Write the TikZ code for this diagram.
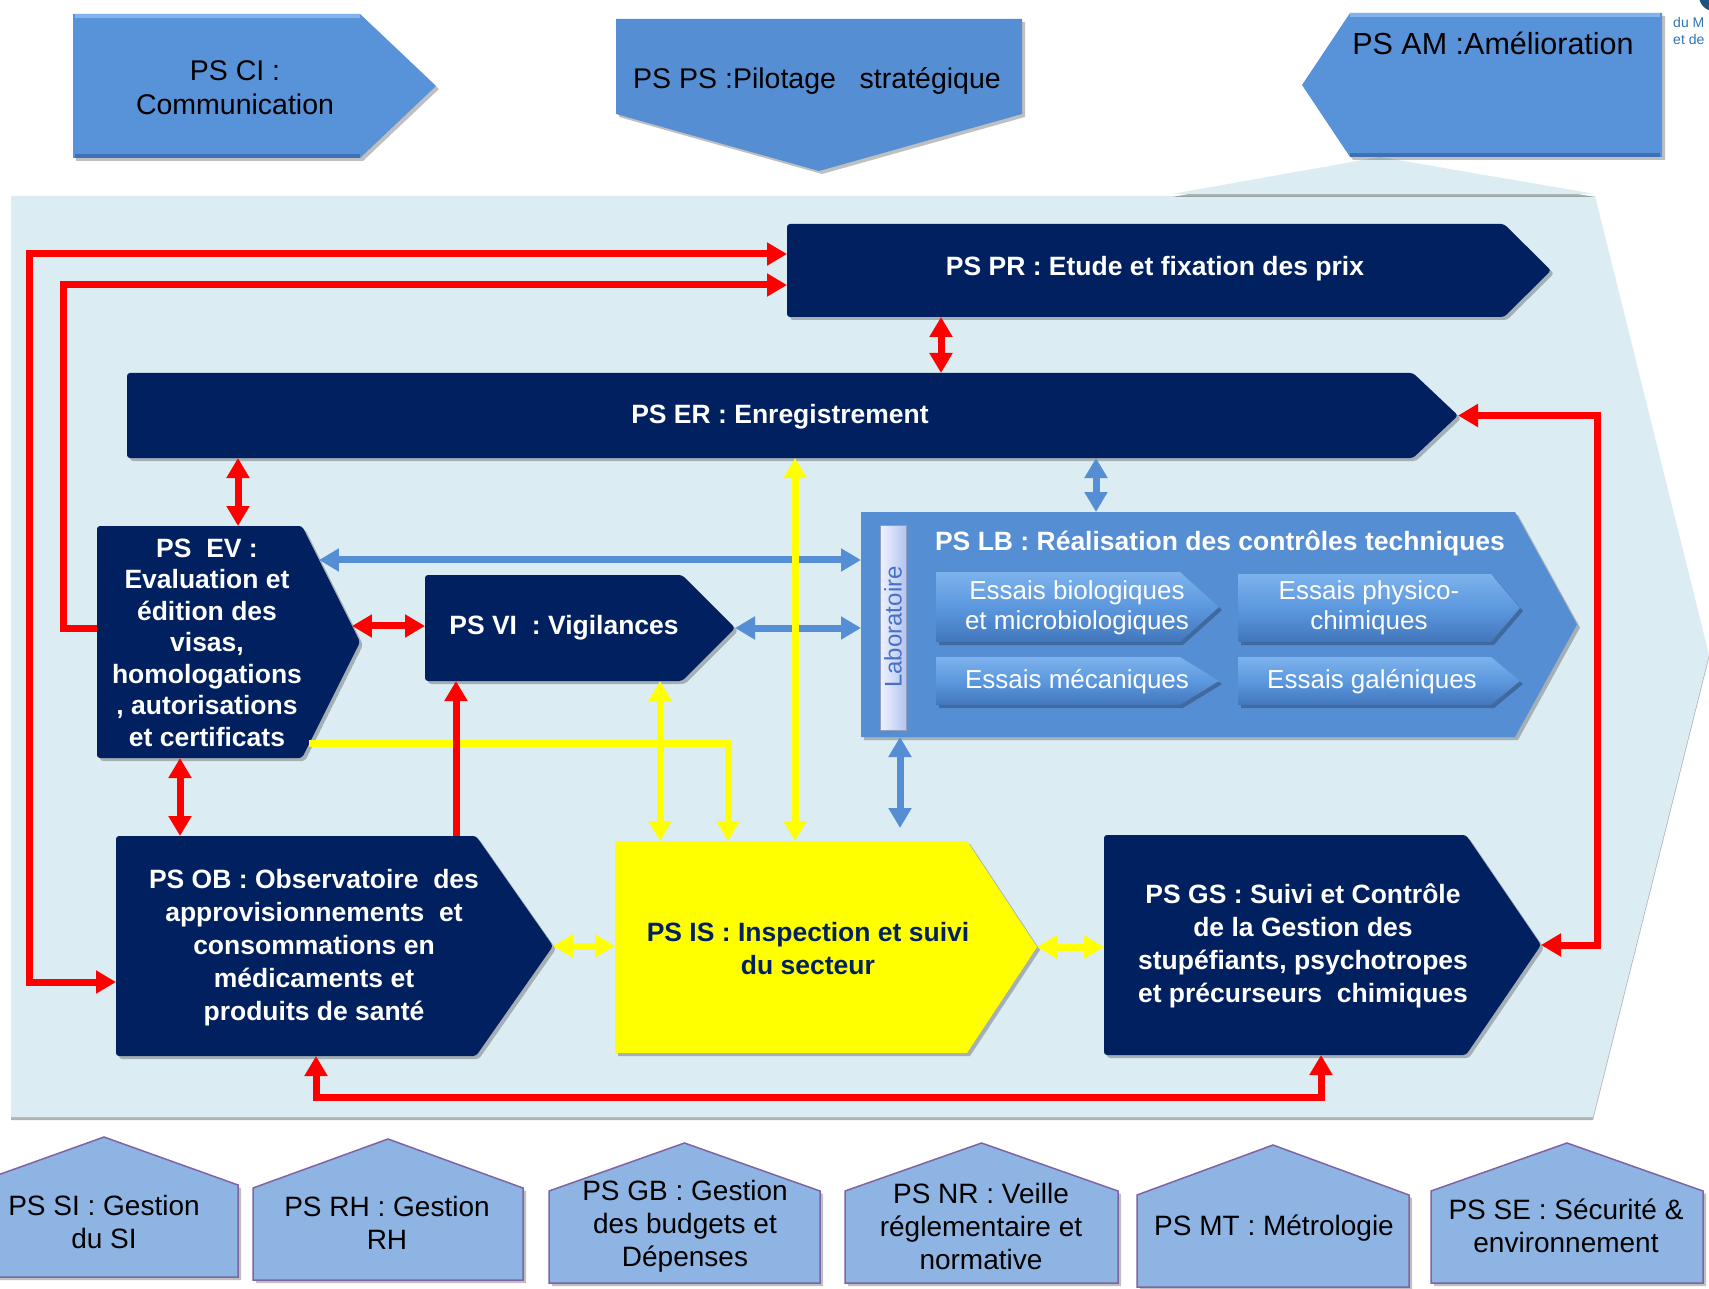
\documentclass[tikz,border=0pt]{standalone}
\usepackage{fontspec}
\setmainfont{Liberation Sans}
\usetikzlibrary{arrows.meta,shadows,calc}
\definecolor{navy}{RGB}{0,32,96}
\definecolor{bgblue}{RGB}{219,236,242}
\definecolor{topblue}{RGB}{88,146,216}
\definecolor{toplight}{RGB}{130,180,236}
\definecolor{topdark}{RGB}{62,112,182}
\definecolor{lbblue}{RGB}{86,142,212}
\definecolor{subtop}{RGB}{125,178,236}
\definecolor{submid}{RGB}{92,152,222}
\definecolor{subbot}{RGB}{66,118,188}
\definecolor{houseblue}{RGB}{142,180,227}
\definecolor{housepurple}{RGB}{128,100,162}
\definecolor{arrowblue}{RGB}{85,142,213}
\definecolor{redc}{RGB}{255,0,0}
\definecolor{yellowc}{RGB}{255,255,0}
\definecolor{labblue}{RGB}{68,114,196}
\definecolor{lableft}{RGB}{240,243,255}
\definecolor{labright}{RGB}{180,196,240}
\definecolor{cornerblue}{RGB}{46,117,182}
\tikzset{
  >={Triangle[width=22pt,length=20pt]},
  bodyrect/.style={inner sep=0pt,outer sep=0pt},
  dshadow/.style={drop shadow={shadow xshift=3pt,shadow yshift=-3pt,opacity=0.25,fill=black}},
  topshape/.style={fill=topblue,dshadow},
  navyshape/.style={fill=navy,rounded corners=3pt,dshadow},
  yellowshape/.style={fill=yellowc,dshadow},
  lbshape/.style={fill=lbblue,dshadow},
  subshape/.style={top color=subtop,bottom color=subbot,middle color=submid,dshadow},
  houseshape/.style={fill=houseblue,draw=housepurple,line width=1.5pt,dshadow},
  toptext/.style={text=black,align=center,inner sep=0pt,font=\fontsize{28.5}{34}\selectfont},
  wtext/.style={text=white,align=center,inner sep=0pt,font=\bfseries\fontsize{26.5}{32.5}\selectfont},
  subtext/.style={text=white,align=center,inner sep=0pt,font=\fontsize{26}{30}\selectfont},
  housetext/.style={text=black,align=center,inner sep=0pt,font=\fontsize{28}{33}\selectfont},
  redline/.style={draw=redc,line width=7pt,line join=miter},
  yelline/.style={draw=yellowc,line width=7pt,line join=miter},
  blueline/.style={draw=arrowblue,line width=7pt,line join=miter},
}
\begin{document}
\begin{tikzpicture}[x=1pt,y=-1pt]
\useasboundingbox (0,0) rectangle (1709,1289);
\clip (0,0) rectangle (1709,1289);
\fill[white] (0,0) rectangle (1709,1289);

% background area
\fill[bgblue,drop shadow={shadow xshift=0pt,shadow yshift=-3pt,opacity=0.3,fill=black}]
  (11,196) -- (1595,196) -- (1709,655) -- (1593,1117) -- (11,1117) -- cycle;
\fill[bgblue,drop shadow={shadow xshift=0pt,shadow yshift=-3pt,opacity=0.3,fill=black}]
  (1172,194) -- (1380,157) -- (1595,194) -- cycle;

% top boxes
\node[bodyrect,minimum width=287,minimum height=144] (ci) at (216.5,86) {};
\fill[topshape] (ci.north west) -- (ci.north east) -- ([xshift=76pt]ci.east) -- (ci.south east) -- (ci.south west) -- cycle;
\draw[toplight,line width=4pt] ([xshift=2pt,yshift=-2pt]ci.north west) -- ([yshift=-2pt]ci.north east);
\draw[topdark,line width=4pt] ([xshift=2pt,yshift=2pt]ci.south west) -- ([yshift=2pt]ci.south east);
\node[toptext] (cit) at (235,88) {PS CI :\\Communication};

\node[bodyrect,minimum width=406,minimum height=95] (ps) at (819,66.5) {};
\fill[topshape,fill=lbblue] (ps.north west) -- (ps.north east) -- (ps.south east) -- ([yshift=-57pt]ps.south) -- (ps.south west) -- cycle;
\node[toptext] (pst) at (817,81) {PS PS :Pilotage\ \ \ stratégique};

\node[bodyrect,minimum width=312,minimum height=144] (am) at (1506,85) {};
\fill[topshape] (am.north west) -- (am.north east) -- (am.south east) -- (am.south west) -- ([xshift=-48pt]am.west) -- cycle;
\draw[toplight,line width=4pt] ([yshift=-2pt]am.north west) -- ([xshift=-2pt,yshift=-2pt]am.north east);
\draw[topdark,line width=4pt] ([yshift=2pt]am.south west) -- ([xshift=-2pt,yshift=2pt]am.south east);
\node[toptext,font=\fontsize{30.5}{36}\selectfont] (amt) at (1493,43) {PS AM :Amélioration};

\node[text=cornerblue,anchor=west,align=left,inner sep=0pt,font=\fontsize{14}{17}\selectfont] (corner) at (1673,31) {du M\\et de};
\fill[cornerblue!70!black] (1714,-4) circle (15);

% process boxes
\node[bodyrect,minimum width=717,minimum height=93] (pr) at (1145.5,270.5) {};
\coordinate (prtip) at ([xshift=47pt]pr.east);
\fill[navyshape] (pr.north west) -- (pr.north east) -- (prtip) -- (pr.south east) -- (pr.south west) -- cycle;
\node[wtext] (prt) at (1155,269) {PS PR : Etude et fixation des prix};

\node[bodyrect,minimum width=1286,minimum height=85] (er) at (770,415.5) {};
\coordinate (ertip) at ([xshift=45pt]er.east);
\fill[navyshape] (er.north west) -- (er.north east) -- (ertip) -- (er.south east) -- (er.south west) -- cycle;
\node[wtext] (ert) at (780,417) {PS ER : Enregistrement};

\node[bodyrect,minimum width=205,minimum height=232] (ev) at (199.5,642) {};
\coordinate (evtip) at ([xshift=58pt]ev.east);
\fill[navyshape] (ev.north west) -- (ev.north east) -- (evtip) -- (ev.south east) -- (ev.south west) -- cycle;
\node[wtext,font=\bfseries\fontsize{26.5}{31.5}\selectfont] (evt) at (207,642.5) {PS\ \ EV :\\Evaluation et\\édition des\\visas,\\homologations\\, autorisations\\et certificats};

\node[bodyrect,minimum width=257,minimum height=106] (vi) at (553.5,628) {};
\coordinate (vitip) at ([xshift=53pt]vi.east);
\fill[navyshape] (vi.north west) -- (vi.north east) -- (vitip) -- (vi.south east) -- (vi.south west) -- cycle;
\node[wtext] (vit) at (564,628) {PS VI\ \ : Vigilances};

\node[bodyrect,minimum width=654,minimum height=225] (lb) at (1188,624.5) {};
\fill[lbshape] (lb.north west) -- (lb.north east) -- ([xshift=62pt]lb.east) -- (lb.south east) -- (lb.south west) -- cycle;
\node[wtext] (lbt) at (1220,543) {PS LB : Réalisation\ des\ contrôles techniques};
\node[bodyrect,minimum width=26,minimum height=205,left color=lableft,right color=labright,draw=labright!80!black,line width=0.5pt] (lab) at (893,627.5) {};
\node[rotate=90,text=labblue,inner sep=0pt,font=\fontsize{24}{24}\selectfont] (labt) at (893,627) {Laboratoire};

\node[bodyrect,minimum width=244,minimum height=70] (eb) at (1058,607) {};
\shade[subshape] (eb.north west) -- (eb.north east) -- ([xshift=39pt]eb.east) -- (eb.south east) -- (eb.south west) -- cycle;
\node[subtext] (ebt) at (1077,608) {Essais biologiques\\et microbiologiques};
\node[bodyrect,minimum width=253,minimum height=68] (ep) at (1364.5,608) {};
\shade[subshape] (ep.north west) -- (ep.north east) -- ([xshift=29pt]ep.east) -- (ep.south east) -- (ep.south west) -- cycle;
\node[subtext] (ept) at (1369,608) {Essais physico-\\chimiques};
\node[bodyrect,minimum width=244,minimum height=48] (em) at (1058,681) {};
\shade[subshape] (em.north west) -- (em.north east) -- ([xshift=39pt]em.east) -- (em.south east) -- (em.south west) -- cycle;
\node[subtext] (emt) at (1077,682) {Essais mécaniques};
\node[bodyrect,minimum width=253,minimum height=48] (eg) at (1364.5,681) {};
\shade[subshape] (eg.north west) -- (eg.north east) -- ([xshift=29pt]eg.east) -- (eg.south east) -- (eg.south west) -- cycle;
\node[subtext] (egt) at (1372,682) {Essais galéniques};

\node[bodyrect,minimum width=360,minimum height=220] (ob) at (296,946) {};
\coordinate (obtip) at ([xshift=77pt]ob.east);
\fill[navyshape] (ob.north west) -- (ob.north east) -- (obtip) -- (ob.south east) -- (ob.south west) -- cycle;
\node[wtext,font=\bfseries\fontsize{26.5}{33}\selectfont] (obt) at (314,947.5) {PS OB : Observatoire\ \ des\\approvisionnements\ \ et\\consommations en\\médicaments et\\produits de santé};

\node[bodyrect,minimum width=352,minimum height=212] (is) at (791,947) {};
\coordinate (istip) at ([xshift=70pt]is.east);
\fill[yellowshape] (is.north west) -- (is.north east) -- (istip) -- (is.south east) -- (is.south west) -- cycle;
\node[wtext,text=navy,font=\bfseries\fontsize{26.5}{33}\selectfont] (ist) at (808,948.5) {PS IS : Inspection et suivi\\du secteur};

\node[bodyrect,minimum width=362,minimum height=220] (gs) at (1285,945) {};
\coordinate (gstip) at ([xshift=75pt]gs.east);
\fill[navyshape] (gs.north west) -- (gs.north east) -- (gstip) -- (gs.south east) -- (gs.south west) -- cycle;
\node[wtext,font=\bfseries\fontsize{26.5}{33}\selectfont] (gst) at (1303,945.5) {PS GS : Suivi et Contrôle\\de la Gestion des\\stupéfiants, psychotropes\\et précurseurs\ \ chimiques};

% support processes (houses)
\node[bodyrect,minimum width=268,minimum height=92] (si) at (104,1231) {};
\fill[houseshape] (si.south west) -- (si.north west) -- ([yshift=48pt]si.north) -- (si.north east) -- (si.south east) -- cycle;
\node[housetext] (sit) at (104,1222) {PS SI : Gestion\\du SI};
\node[bodyrect,minimum width=270,minimum height=92] (rh) at (388,1234) {};
\fill[houseshape] (rh.south west) -- (rh.north west) -- ([yshift=49pt]rh.north) -- (rh.north east) -- (rh.south east) -- cycle;
\node[housetext] (rht) at (387,1223) {PS RH : Gestion\\RH};
\node[bodyrect,minimum width=271,minimum height=92] (gb) at (684.5,1237) {};
\fill[houseshape] (gb.south west) -- (gb.north west) -- ([yshift=48pt]gb.north) -- (gb.north east) -- (gb.south east) -- cycle;
\node[housetext] (gbt) at (685,1226) {PS GB : Gestion\\des budgets et\\Dépenses};
\node[bodyrect,minimum width=273,minimum height=92] (nr) at (981.5,1237) {};
\fill[houseshape] (nr.south west) -- (nr.north west) -- ([yshift=48pt]nr.north) -- (nr.north east) -- (nr.south east) -- cycle;
\node[housetext] (nrt) at (981,1226) {PS NR : Veille\\réglementaire et\\normative};
\node[bodyrect,minimum width=272,minimum height=92] (mt) at (1273,1241) {};
\fill[houseshape] (mt.south west) -- (mt.north west) -- ([yshift=50pt]mt.north) -- (mt.north east) -- (mt.south east) -- cycle;
\node[housetext] (mtt) at (1274,1228) {PS MT : Métrologie};
\node[bodyrect,minimum width=272,minimum height=92] (se) at (1567,1237) {};
\fill[houseshape] (se.south west) -- (se.north west) -- ([yshift=48pt]se.north) -- (se.north east) -- (se.south east) -- cycle;
\node[housetext] (set) at (1566,1226) {PS SE : Sécurité \&\\environnement};

% points on EV chevron
\coordinate (evb) at ($(ev.north east)!0.293!(evtip)$);
\coordinate (evr) at ($(ev.north east)!0.862!(evtip)$);
\coordinate (evy) at ($(evtip)!0.879!(ev.south east)$);
\coordinate (lbend) at (900,828);

% blue connectors
\draw[blueline,<->] (evb) -- (lb.west |- evb);
\draw[blueline,<->] (vitip) -- (lb.west |- vitip);
\draw[blueline,<->] (1096,0 |- er.south) -- (1096,0 |- lb.north);
\draw[blueline,<->] (900,0 |- lb.south) -- (lbend);

% yellow connectors
\draw[yelline,->] (evy) -- (728,0 |- evy) -- (728,0 |- is.north);
\draw[yelline,<->] (795,0 |- er.south) -- (795,0 |- is.north);
\draw[yelline,<->] (660,0 |- vi.south) -- (660,0 |- is.north);
\draw[yelline,<->] (obtip) -- (is.west |- obtip);
\draw[yelline,<->] (istip) -- (gs.west |- istip);

% red connectors
\draw[redline,<->] (941,0 |- pr.south) -- (941,0 |- er.north);
\draw[redline,<->] (pr.west |- 0,254) -- (29,254) -- (29,982) -- (ob.west |- 0,982);
\draw[redline,->] (ev.west |- 0,628) -- (63,628) -- (63,285) -- (pr.west |- 0,285);
\draw[redline,<->] (238,0 |- er.south) -- (238,0 |- ev.north);
\draw[redline,<->] (evr) -- (vi.west |- evr);
\draw[redline,<->] (180,0 |- ev.south) -- (180,0 |- ob.north);
\draw[redline,->] (456,0 |- ob.north) -- (456,0 |- vi.south);
\draw[redline,<->] (316,0 |- ob.south) -- (316,1097) -- (1321,1097) -- (1321,0 |- gs.south);
\draw[redline,<->] (ertip) -- (1597,0 |- ertip) -- (1597,0 |- gstip) -- (gstip);
\end{tikzpicture}
\end{document}
